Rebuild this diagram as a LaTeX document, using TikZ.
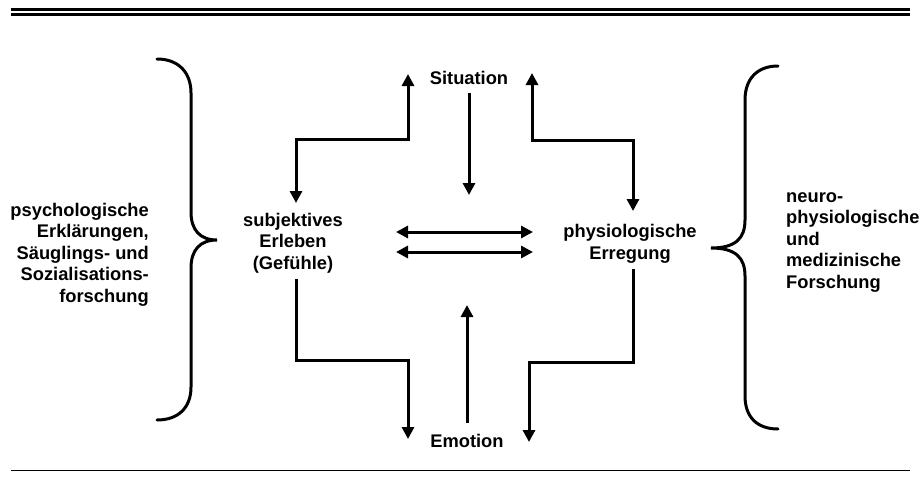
\documentclass[tikz,border=0pt]{standalone}
\usepackage{fontspec}
\setmainfont{Liberation Sans}
\usetikzlibrary{arrows.meta}
\begin{document}
\begin{tikzpicture}[x=1pt,y=-1pt,
  lbl/.style={font=\bfseries\fontsize{18.3}{21.5}\selectfont,inner sep=0pt,align=center},
  tip/.style={Triangle[width=12pt,length=12pt]},
  flow/.style={line width=3pt,-{Triangle[width=12pt,length=12pt]}},
  both/.style={line width=3pt,{Triangle[width=12pt,length=12pt]}-{Triangle[width=12pt,length=12pt]}},
  brace/.style={line width=3pt,line cap=round},
  rule/.style={line width=3pt}]
\useasboundingbox (0,0) rectangle (920,490);

% header and footer rules
\coordinate (r1a) at (11,9.5);  \coordinate (r1b) at (910,9.5);
\coordinate (r2a) at (11,14.5); \coordinate (r2b) at (910,14.5);
\draw[rule] (r1a) -- (r1b);
\draw[rule] (r2a) -- (r2b);
\coordinate (r3a) at (11,470); \coordinate (r3b) at (910,470);
\draw[line width=1pt] (r3a) -- (r3b);

% text nodes
\node[lbl] (sit) at (469,78) {Situation};
\node[lbl] (emo) at (467,441) {Emotion};
\node[lbl] (subj) at (293,243) {subjektives\\Erleben\\(Gefühle)};
\node[lbl] (phys) at (630,244) {physiologische\\Erregung};
\node[lbl,align=right,anchor=east] (psy) at (149,254.5)
  {psychologische\\Erklärungen,\\Säuglings- und\\Sozialisations-\\forschung};
\node[lbl,align=left,anchor=west] (neuro) at (786,242.5)
  {neuro-\\physiologische\\und\\medizinische\\Forschung};

% connector ends and corners
\coordinate (ulA) at (296,203); \coordinate (ulB) at (296,139);
\coordinate (ulC) at (408,139); \coordinate (ulD) at (408,74);
\coordinate (urA) at (532,73);  \coordinate (urB) at (532,140);
\coordinate (urC) at (633,140); \coordinate (urD) at (633,211);
\coordinate (cdA) at (469,93);  \coordinate (cdB) at (469,195);
\coordinate (h1a) at (396,232); \coordinate (h1b) at (533,232);
\coordinate (h2a) at (396,252); \coordinate (h2b) at (533,252);
\coordinate (llA) at (296,279); \coordinate (llB) at (296,360);
\coordinate (llC) at (408,360); \coordinate (llD) at (408,439);
\coordinate (cuA) at (467,423); \coordinate (cuB) at (467,305);
\coordinate (lrA) at (633,269); \coordinate (lrB) at (633,362);
\coordinate (lrC) at (529,362); \coordinate (lrD) at (529,442);

\draw[both] (ulA) -- (ulB) -- (ulC) -- (ulD);
\draw[both] (urA) -- (urB) -- (urC) -- (urD);
\draw[flow] (cdA) -- (cdB);
\draw[both] (h1a) -- (h1b);
\draw[both] (h2a) -- (h2b);
\draw[flow] (llA) -- (llB) -- (llC) -- (llD);
\draw[flow] (cuA) -- (cuB);
\draw[flow] (lrA) -- (lrB) -- (lrC) -- (lrD);

% left brace, opening to the left, tip at (217,240)
\draw[brace] (157,59) .. controls (178,59) and (191,72) .. (191,93)
  -- (191,212) .. controls (191,230) and (200,240) .. (217,240)
  .. controls (200,240) and (191,250) .. (191,268)
  -- (191,387) .. controls (191,408) and (178,420) .. (157,420);

% right brace, opening to the right, tip at (711,248)
\draw[brace] (778,66) .. controls (757,66) and (745,79) .. (745,100)
  -- (745,220) .. controls (745,238) and (736,248) .. (711,248)
  .. controls (736,248) and (745,258) .. (745,276)
  -- (745,396) .. controls (745,417) and (757,429) .. (778,429);
\end{tikzpicture}
\end{document}
